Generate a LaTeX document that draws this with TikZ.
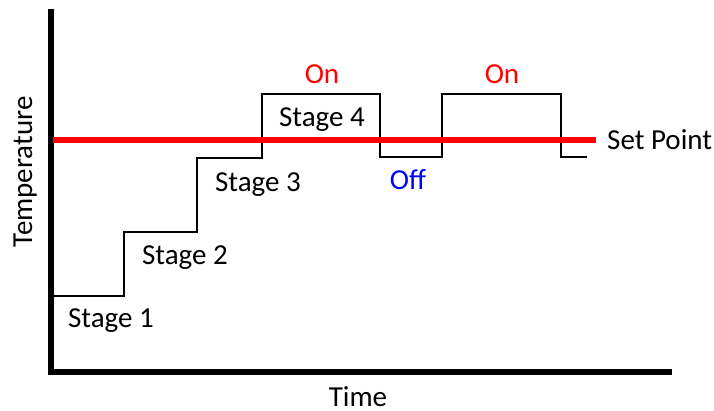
\documentclass[tikz,border=0pt]{standalone}
\usepackage{fontspec}
\setmainfont{Carlito}
\begin{document}
\begin{tikzpicture}[x=1bp,y=-1bp,
  lbl/.style={inner sep=0pt,anchor=base,font=\fontsize{29bp}{31bp}\selectfont},
  axis/.style={line width=6bp},
  curve/.style={line width=2bp,line join=miter},
  setline/.style={line width=6.5bp,red}]
\useasboundingbox (0,0) rectangle (714,410);
\coordinate (top) at (50.5,9);
\coordinate (origin) at (50.5,372);
\coordinate (xend) at (672,372);
\draw[axis] (top) -- (origin) -- (xend);
\coordinate (s0) at (53,296);
\coordinate (s1) at (124,232);
\coordinate (s2) at (197,158);
\coordinate (s3) at (262,94);
\coordinate (s4) at (380,157);
\coordinate (s5) at (442,94);
\coordinate (s6) at (561,157);
\coordinate (send) at (587,157);
\draw[curve] (s0) -| (s1) -| (s2) -| (s3) -| (s4) -| (s5) -| (s6) -- (send);
\coordinate (spa) at (53,140);
\coordinate (spb) at (596,140);
\draw[setline] (spa) -- (spb);
\node[lbl] (st1) at (111,327) {Stage 1};
\node[lbl] (st2) at (185,264) {Stage 2};
\node[lbl] (st3) at (258,191) {Stage 3};
\node[lbl] (st4) at (322,126) {Stage 4};
\node[lbl,text=red] (on1) at (322,83) {On};
\node[lbl,text=red] (on2) at (502,83) {On};
\node[lbl,text=blue] (off) at (408,189) {Off};
\node[lbl,anchor=base west] (sp) at (607,149) {Set Point};
\node[lbl] (time) at (358,406) {Time};
\node[lbl,rotate=90] (temp) at (32,172) {Temperature};
\end{tikzpicture}
\end{document}
